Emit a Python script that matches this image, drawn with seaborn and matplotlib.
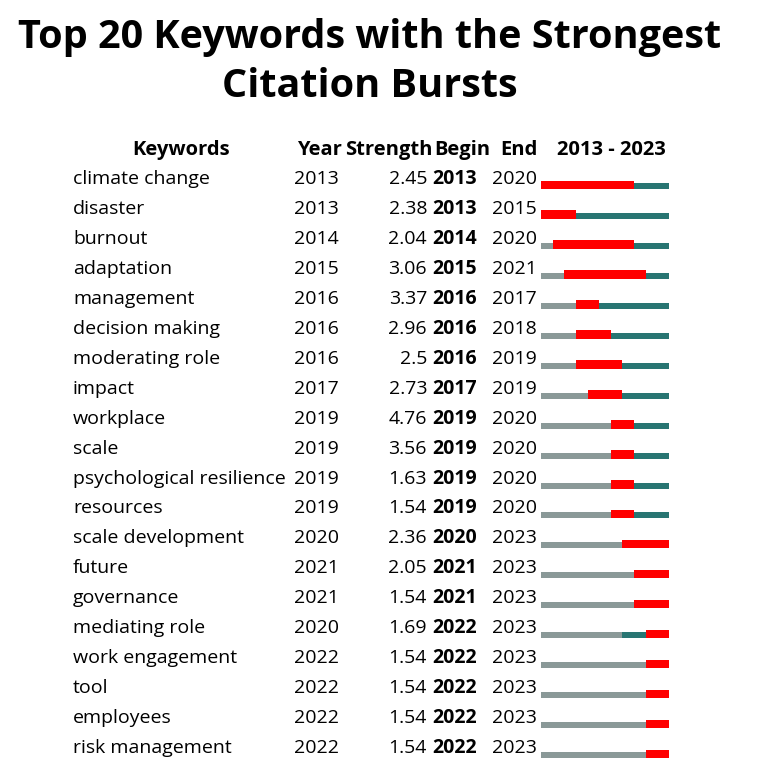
import matplotlib
matplotlib.use("Agg")
import matplotlib.pyplot as plt
import seaborn as sns

keywords = ["climate change", "disaster", "burnout", "adaptation", "management",
            "decision making", "moderating role", "impact", "workplace", "scale",
            "psychological resilience", "resources", "scale development", "future",
            "governance", "mediating role", "work engagement", "tool", "employees",
            "risk management"]
first_year = [2013, 2013, 2014, 2015, 2016, 2016, 2016, 2017, 2019, 2019,
              2019, 2019, 2020, 2021, 2021, 2020, 2022, 2022, 2022, 2022]
strength = ["2.45", "2.38", "2.04", "3.06", "3.37", "2.96", "2.5", "2.73", "4.76", "3.56",
            "1.63", "1.54", "2.36", "2.05", "1.54", "1.69", "1.54", "1.54", "1.54", "1.54"]
begin = [2013, 2013, 2014, 2015, 2016, 2016, 2016, 2017, 2019, 2019,
         2019, 2019, 2020, 2021, 2021, 2022, 2022, 2022, 2022, 2022]
end = [2020, 2015, 2020, 2021, 2017, 2018, 2019, 2019, 2020, 2020,
       2020, 2020, 2023, 2023, 2023, 2023, 2023, 2023, 2023, 2023]
start_year, stop_year = 2013, 2023

sns.set_theme(style="white")
plt.rcParams['font.family'] = ['Open Sans', 'DejaVu Sans']
plt.rcParams['text.color'] = 'black'

W, H = 762, 784
fig = plt.figure(figsize=(W / 100, H / 100), dpi=100)
ax = fig.add_axes([0, 0, 1, 1])
ax.set_xlim(0, W)
ax.set_ylim(H, 0)
ax.axis('off')

# title
ax.text(370, 48, "Top 20 Keywords with the Strongest", ha='center', va='baseline',
        fontsize=28.5, fontweight='bold', color='black')
ax.text(370, 97, "Citation Bursts", ha='center', va='baseline',
        fontsize=28.5, fontweight='bold', color='black')

# header
hy = 155
hfs = 14.5
ax.text(181, hy, "Keywords", ha='center', va='baseline', fontsize=hfs, fontweight='bold')
ax.text(297, hy, "Year", ha='left', va='baseline', fontsize=hfs, fontweight='bold')
ax.text(345, hy, "Strength", ha='left', va='baseline', fontsize=hfs, fontweight='bold')
ax.text(434, hy, "Begin", ha='left', va='baseline', fontsize=hfs, fontweight='bold')
ax.text(500, hy, "End", ha='left', va='baseline', fontsize=hfs, fontweight='bold')
ax.text(611, hy, f"{start_year} - {stop_year}", ha='center', va='baseline',
        fontsize=hfs, fontweight='bold')

# rows
fs = 14
base0, pitch = 184, 29.95
for i, kw in enumerate(keywords):
    by = base0 + pitch * i
    ax.text(73, by, kw, ha='left', va='baseline', fontsize=fs)
    ax.text(294, by, str(first_year[i]), ha='left', va='baseline', fontsize=fs)
    ax.text(427, by, strength[i], ha='right', va='baseline', fontsize=fs)
    ax.text(432, by, str(begin[i]), ha='left', va='baseline', fontsize=fs, fontweight='bold')
    ax.text(492, by, str(end[i]), ha='left', va='baseline', fontsize=fs)

# timeline bars
bx = fig.add_axes([541 / W, 0, 128 / W, 1])
bx.set_xlim(start_year, stop_year + 1)
bx.set_ylim(H, 0)
bx.axis('off')

grey, teal, red = "#8A9998", "#287572", "#FF0000"
thin, thick = 6, 8.5
for i in range(len(keywords)):
    bottom = base0 + 5 + pitch * i
    if first_year[i] > start_year:
        bx.barh(bottom - thin / 2, first_year[i] - start_year, left=start_year,
                height=thin, color=grey, linewidth=0)
    bx.barh(bottom - thin / 2, stop_year + 1 - first_year[i], left=first_year[i],
            height=thin, color=teal, linewidth=0)
    bx.barh(bottom - thick / 2, end[i] + 1 - begin[i], left=begin[i],
            height=thick, color=red, linewidth=0)

fig.savefig("out.png", dpi=100)
